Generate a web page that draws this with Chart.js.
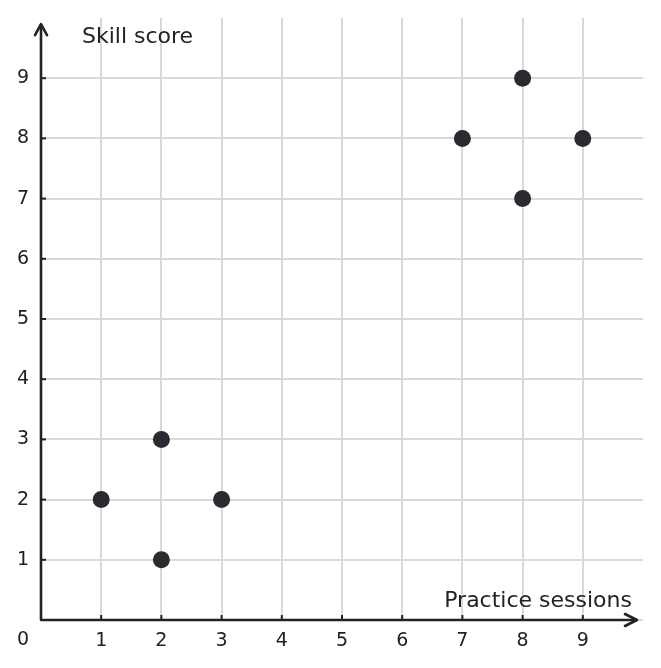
<!DOCTYPE html>
<html>
<head>
<meta charset="utf-8">
<script src="https://cdn.jsdelivr.net/npm/chart.js@4.4.0/dist/chart.umd.min.js"></script>
<style>
  html, body { margin: 0; padding: 0; background: #ffffff; }
  #wrap { width: 661px; height: 668px; position: relative; }
</style>
</head>
<body>
<div id="wrap"><canvas id="c"></canvas></div>
<script>
// ---- data ----
const practiceSessions = [1, 2, 2, 3, 7, 8, 8, 9];
const skillScores      = [2, 3, 1, 2, 8, 9, 7, 8];
const xTickValues = [1, 2, 3, 4, 5, 6, 7, 8, 9];
const yTickValues = [1, 2, 3, 4, 5, 6, 7, 8, 9];
const xTitle = "Practice sessions";
const yTitle = "Skill score";
const originLabel = "0";

const FONT = "'DejaVu Sans', sans-serif";
const AXIS_COLOR = "#222222";
const TEXT_COLOR = "#222222";
const GRID_COLOR = "#d9d9d9";

const points = practiceSessions.map((x, i) => ({ x: x, y: skillScores[i] }));

const axesPlugin = {
  id: 'axesPlugin',
  afterDraw(chart) {
    const ctx = chart.ctx;
    const xs = chart.scales.x, ys = chart.scales.y;
    const x0 = xs.getPixelForValue(0), y0 = ys.getPixelForValue(0);
    const xEnd = xs.getPixelForValue(9.9), yEnd = ys.getPixelForValue(9.9);
    ctx.save();
    ctx.strokeStyle = AXIS_COLOR;
    ctx.lineWidth = 2.6;
    ctx.lineJoin = 'round';
    ctx.lineCap = 'butt';
    // axes lines
    ctx.beginPath();
    ctx.moveTo(x0, yEnd);
    ctx.lineTo(x0, y0);
    ctx.lineTo(xEnd, y0);
    ctx.stroke();
    // arrowheads
    ctx.lineCap = 'round';
    ctx.beginPath();
    ctx.moveTo(x0 - 6, yEnd + 11);
    ctx.lineTo(x0, yEnd);
    ctx.lineTo(x0 + 6, yEnd + 11);
    ctx.stroke();
    ctx.beginPath();
    ctx.moveTo(xEnd - 12, y0 - 6);
    ctx.lineTo(xEnd, y0);
    ctx.lineTo(xEnd - 12, y0 + 6);
    ctx.stroke();
    // inward tick marks
    ctx.lineWidth = 2;
    ctx.lineCap = 'butt';
    xTickValues.forEach(v => {
      const px = xs.getPixelForValue(v);
      ctx.beginPath(); ctx.moveTo(px, y0); ctx.lineTo(px, y0 - 5); ctx.stroke();
    });
    yTickValues.forEach(v => {
      const py = ys.getPixelForValue(v);
      ctx.beginPath(); ctx.moveTo(x0, py); ctx.lineTo(x0 + 5, py); ctx.stroke();
    });
    // titles
    ctx.fillStyle = TEXT_COLOR;
    ctx.font = "22px " + FONT;
    ctx.textBaseline = 'alphabetic';
    ctx.textAlign = 'left';
    ctx.fillText(yTitle, x0 + 41, yEnd + 19);
    ctx.textAlign = 'right';
    ctx.fillText(xTitle, xEnd - 5, y0 - 13);
    // origin label
    ctx.font = "19px " + FONT;
    ctx.textAlign = 'right';
    ctx.fillText(originLabel, x0 - 12, y0 + 25);
    ctx.restore();
  }
};

new Chart(document.getElementById('c'), {
  type: 'scatter',
  data: {
    datasets: [{
      data: points,
      backgroundColor: '#2a2b30',
      borderColor: '#2a2b30',
      pointRadius: 8.5,
      pointHoverRadius: 8.5,
      borderWidth: 0
    }]
  },
  options: {
    responsive: true,
    maintainAspectRatio: false,
    animation: false,
    events: [],
    layout: { padding: { top: 18, right: 18, left: 0, bottom: 0 } },
    plugins: { legend: { display: false }, tooltip: { enabled: false } },
    scales: {
      x: {
        type: 'linear',
        min: 0, max: 10,
        afterBuildTicks(scale) { scale.ticks = [0,1,2,3,4,5,6,7,8,9,10].map(v => ({ value: v })); },
        afterFit(scale) { scale.height = 48; scale.paddingLeft = 0; scale.paddingRight = 0; },
        border: { display: false },
        grid: {
          drawTicks: false,
          lineWidth: 2,
          color: (c) => (xTickValues.includes(c.tick && c.tick.value) ? GRID_COLOR : 'rgba(0,0,0,0)')
        },
        ticks: {
          padding: 10,
          color: TEXT_COLOR,
          font: { family: FONT, size: 19 },
          maxRotation: 0,
          autoSkip: false,
          callback: (v) => (xTickValues.includes(v) ? String(v) : '')
        }
      },
      y: {
        type: 'linear',
        min: 0, max: 10,
        afterBuildTicks(scale) { scale.ticks = [0,1,2,3,4,5,6,7,8,9,10].map(v => ({ value: v })); },
        afterFit(scale) { scale.width = 41; scale.paddingTop = 0; scale.paddingBottom = 0; },
        border: { display: false },
        grid: {
          drawTicks: false,
          lineWidth: 2,
          color: (c) => ((c.tick && c.tick.value >= 0 && c.tick.value <= 9) ? GRID_COLOR : 'rgba(0,0,0,0)')
        },
        ticks: {
          padding: 12,
          color: TEXT_COLOR,
          font: { family: FONT, size: 19 },
          autoSkip: false,
          callback: (v) => (yTickValues.includes(v) ? String(v) : '')
        }
      }
    }
  },
  plugins: [axesPlugin]
});
</script>
</body>
</html>
